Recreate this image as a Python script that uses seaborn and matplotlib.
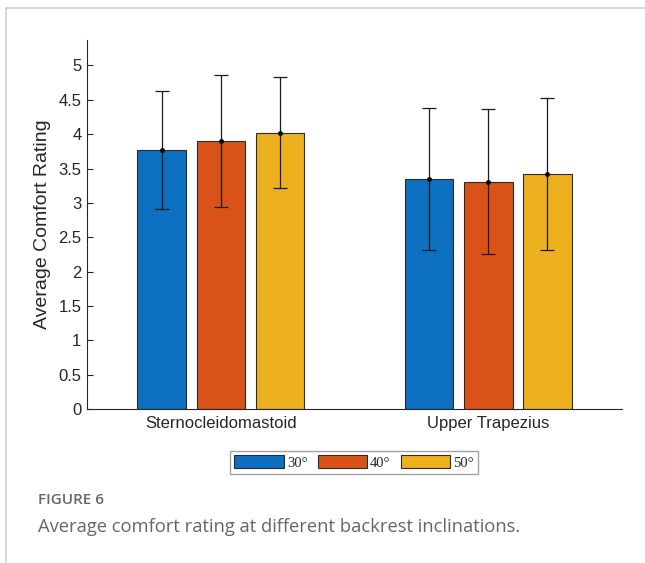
import matplotlib
matplotlib.use("Agg")
import matplotlib.pyplot as plt
import seaborn as sns
import pandas as pd
import numpy as np
from matplotlib.lines import Line2D

# ---- data ----
muscles = ["Sternocleidomastoid", "Upper Trapezius"]
angles = ["30°", "40°", "50°"]
mean_30 = [3.77, 3.35]
mean_40 = [3.90, 3.31]
mean_50 = [4.02, 3.42]
sd_30 = [0.86, 1.03]
sd_40 = [0.96, 1.05]
sd_50 = [0.81, 1.10]
yticks = [0, 0.5, 1, 1.5, 2, 2.5, 3, 3.5, 4, 4.5, 5]
ytick_labels = ["0", "0.5", "1", "1.5", "2", "2.5", "3", "3.5", "4", "4.5", "5"]

colors = ["#0D6FBF", "#D95319", "#EDB120"]

rows = []
for a, m, s in zip(angles, [mean_30, mean_40, mean_50], [sd_30, sd_40, sd_50]):
    for mus, mv, sv in zip(muscles, m, s):
        rows.append({"Muscle": mus, "Angle": a, "Mean": mv, "SD": sv})
df = pd.DataFrame(rows)

sns.set_style("white")
plt.rcParams["font.family"] = ["Liberation Sans", "DejaVu Sans"]

fig = plt.figure(figsize=(6.45, 5.63), dpi=100)
ax = fig.add_axes([0.1349, 0.2735, 0.8295, 0.6554])

sns.barplot(data=df, x="Muscle", y="Mean", hue="Angle", order=muscles,
            hue_order=angles, palette=colors, errorbar=None, width=0.663,
            gap=0.18, edgecolor="#2a2a2a", linewidth=0.8, saturation=1,
            ax=ax, legend=True)

# error bars at bar centres
for cont, a in zip(ax.containers, angles):
    sub = df[df["Angle"] == a].set_index("Muscle").loc[muscles]
    xs = [p.get_x() + p.get_width() / 2 for p in cont.patches]
    ax.errorbar(xs, sub["Mean"].values, yerr=sub["SD"].values, fmt="o",
                color="black", ecolor="#1a1a1a", elinewidth=0.9, capsize=5,
                capthick=0.9, markersize=2.5, zorder=5)

ax.set_xlim(-0.5, 1.5)
ax.set_ylim(0, 5.37)
ax.set_yticks(yticks)
ax.set_yticklabels(ytick_labels)
ax.set_xlabel("")
ax.set_ylabel("Average Comfort Rating", fontsize=14, color="#262626", labelpad=5)
ax.tick_params(axis="y", direction="in", length=4, width=0.8, colors="#262626",
               labelsize=12, pad=4, left=True)
ax.tick_params(axis="x", direction="in", length=4, width=0.8, colors="#262626",
               labelsize=12, pad=5, bottom=True)
for sp in ["top", "right"]:
    ax.spines[sp].set_visible(False)
for sp in ["left", "bottom"]:
    ax.spines[sp].set_color("#262626")
    ax.spines[sp].set_linewidth(0.8)

handles, labels = ax.get_legend_handles_labels()
ax.legend_.remove()
leg = fig.legend(handles, labels, loc="center", bbox_to_anchor=(0.549, 0.1785),
                 ncol=3, frameon=True, fancybox=False,
                 prop={"family": "Liberation Serif", "size": 10.5},
                 handlelength=3.4, handleheight=1.0, handletextpad=0.2,
                 columnspacing=0.7, borderpad=0.3, borderaxespad=0)
leg.get_frame().set_edgecolor("#8a8a8a")
leg.get_frame().set_linewidth(1.0)

# card frame
fig.add_artist(Line2D([6 / 645, 1.0], [1 - 8 / 563, 1 - 8 / 563],
                      transform=fig.transFigure, color="#cfcfcf", lw=1.2))
fig.add_artist(Line2D([6 / 645, 6 / 645], [0, 1 - 8 / 563],
                      transform=fig.transFigure, color="#cfcfcf", lw=1.2))

fig.text(38 / 645, 1 - 500 / 563, "FIGURE 6", fontsize=11, color="#666666",
         family="Open Sans", fontweight="semibold", va="center", ha="left")
fig.text(38 / 645, 1 - 527 / 563,
         "Average comfort rating at different backrest inclinations.",
         fontsize=13.2, color="#666666", family="Open Sans", va="center", ha="left")

fig.savefig("out.png", dpi=100)
